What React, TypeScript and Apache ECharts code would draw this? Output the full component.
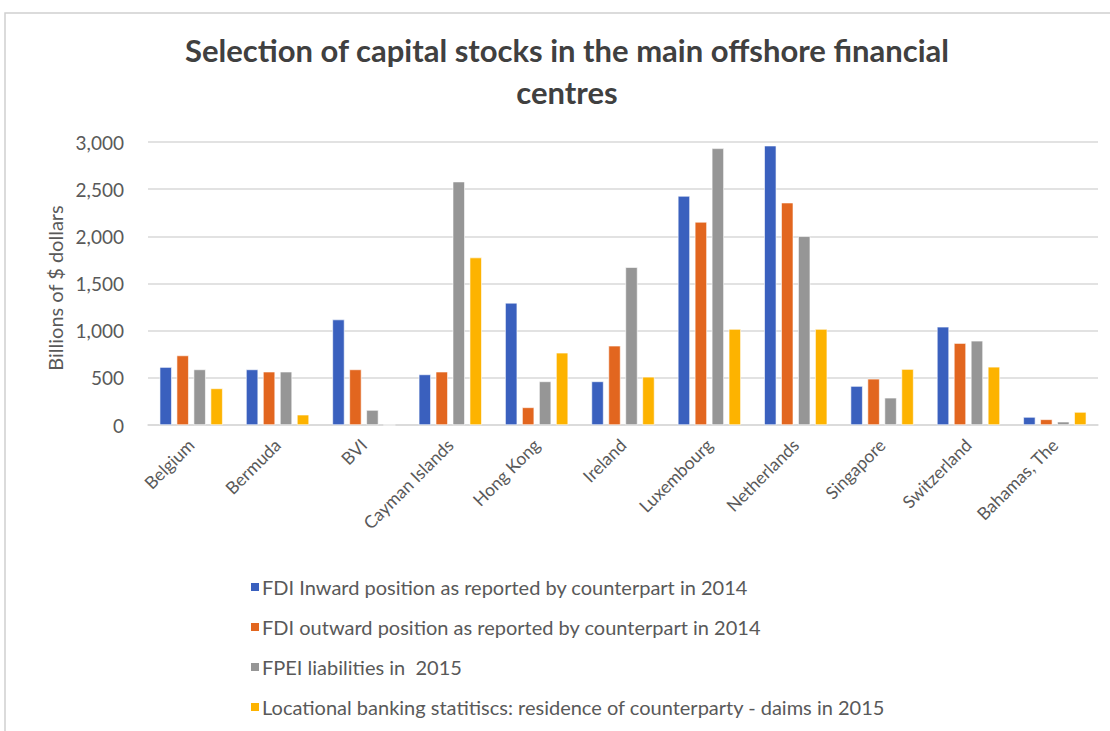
import React, { useEffect, useRef } from "react";
import * as echarts from "echarts";

const categories = ["Belgium", "Bermuda", "BVI", "Cayman Islands", "Hong Kong", "Ireland", "Luxembourg", "Netherlands", "Singapore", "Switzerland", "Bahamas, The"];
const fdiInward = [614, 589, 1118, 536, 1295, 462, 2428, 2961, 413, 1041, 85];
const fdiOutward = [737, 565, 589, 565, 187, 840, 2153, 2357, 490, 868, 60];
const fpeiLiabilities = [589, 565, 159, 2580, 462, 1673, 2933, 2001, 289, 893, 35];
const bankingClaims = [388, 109, 0, 1775, 766, 511, 1017, 1017, 593, 617, 138];
const seriesNames = [
  "FDI Inward position as reported by counterpart in 2014",
  "FDI outward position as reported by counterpart in 2014",
  "FPEI liabilities in  2015",
  "Locational banking statitiscs: residence of counterparty - daims in 2015",
];
const colors = ["#3A60BE", "#E2661F", "#969696", "#FDB300"];
const FONT = "Lato, 'Open Sans', sans-serif";

export default function App() {
  const ref = useRef<HTMLDivElement>(null);
  useEffect(() => {
    const chart = echarts.init(ref.current!, null, { renderer: "svg" });
    const data = [fdiInward, fdiOutward, fpeiLiabilities, bankingClaims];
    chart.setOption({
      animation: false,
      backgroundColor: "#fff",
      title: {
        text: "Selection of capital stocks in the main offshore financial\ncentres",
        left: 562,
        top: 24,
        textAlign: "center",
        textStyle: { fontFamily: FONT, fontWeight: "bold", fontSize: 31, color: "#404040", lineHeight: 42 },
      },
      legend: {
        orient: "vertical",
        left: 244,
        top: 572,
        itemGap: 20,
        itemWidth: 10,
        itemHeight: 10,
        icon: "rect",
        textStyle: { fontFamily: FONT, fontSize: 20, color: "#595959", padding: [0, 0, 0, -3] },
        data: seriesNames,
      },
      grid: { left: 148, right: 12, top: 142, bottom: 306, containLabel: false },
      xAxis: {
        type: "category",
        data: categories,
        axisLine: { lineStyle: { color: "#d9d9d9", width: 1.5 } },
        axisTick: { show: false },
        axisLabel: { rotate: 45, fontFamily: FONT, fontSize: 17.5, color: "#595959", margin: 17, interval: 0 },
      },
      yAxis: {
        type: "value",
        min: 0,
        max: 3000,
        interval: 500,
        axisLine: { show: false },
        axisTick: { show: false },
        splitLine: { lineStyle: { color: "#d9d9d9", width: 1.5 } },
        axisLabel: {
          fontFamily: FONT,
          fontSize: 19,
          color: "#595959",
          margin: 24,
          formatter: (v: number) => v.toLocaleString("en-US"),
        },
      },
      graphic: [
        {
          type: "text",
          x: 55,
          y: 288,
          rotation: Math.PI / 2,
          style: {
            text: "Billions of $ dollars",
            fontFamily: FONT,
            fontSize: 20,
            fill: "#595959",
            textAlign: "center",
            textVerticalAlign: "middle",
          },
        },
        {
          type: "rect",
          shape: { x: 5, y: 13, width: 1200, height: 800 },
          style: { fill: "none", stroke: "#d0d0d0", lineWidth: 1.5 },
          silent: true,
        },
      ],
      series: data.map((d, i) => ({
        name: seriesNames[i],
        type: "bar",
        data: d,
        barGap: "40%",
        barCategoryGap: "27%",
        itemStyle: { color: colors[i], borderColor: "#ffffff", borderWidth: 0.6 },
      })),
    });
    return () => chart.dispose();
  }, []);
  return <div ref={ref} style={{ position: "fixed", left: 0, top: 0, width: 1110, height: 731 }} />;
}
